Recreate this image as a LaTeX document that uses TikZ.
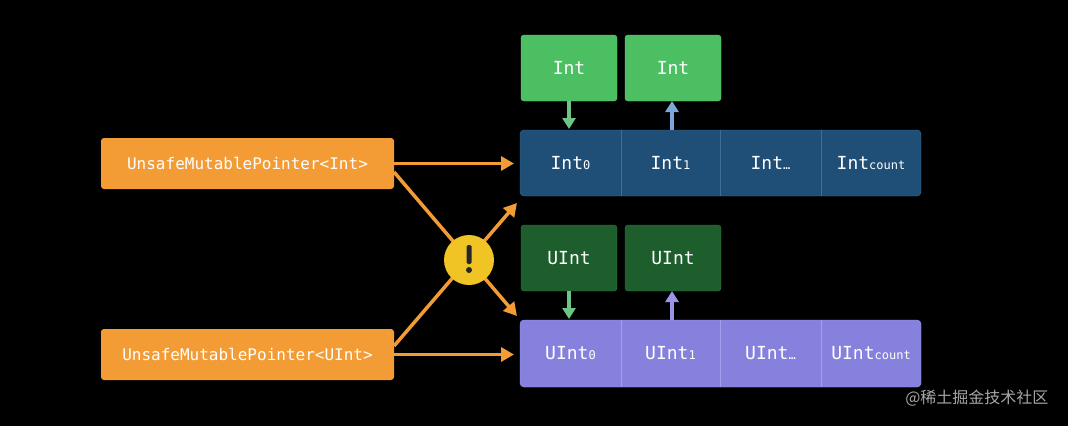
\documentclass[tikz,border=0pt]{standalone}
\usepackage{fontspec}
\setmainfont{DejaVu Sans Mono}
\newfontfamily\cjk{Noto Sans CJK SC}
\usetikzlibrary{arrows.meta}
\definecolor{orng}{HTML}{F39C35}
\definecolor{topb}{HTML}{1F4E76}
\definecolor{topl}{HTML}{3F6E98}
\definecolor{botb}{HTML}{8681DD}
\definecolor{botl}{HTML}{A3A0EA}
\definecolor{lgrn}{HTML}{4CBF63}
\definecolor{dgrn}{HTML}{1E5E2D}
\definecolor{arrg}{HTML}{6CC487}
\definecolor{arrb}{HTML}{7EA6D8}
\definecolor{arrp}{HTML}{9A95E6}
\newcommand{\sbs}[1]{{\fontsize{12}{14}\selectfont #1}}
\begin{document}
\begin{tikzpicture}[x=1pt,y=-1pt,
  ptr/.style={fill=orng,rounded corners=3pt,minimum width=293pt,minimum height=51pt,text=white,font=\fontsize{16}{18}\selectfont,inner sep=0pt},
  cell/.style={minimum width=100pt,minimum height=66pt,text=white,font=\fontsize{18}{20}\selectfont,inner sep=0pt},
  val/.style={rounded corners=3pt,minimum width=96pt,minimum height=66pt,text=white,font=\fontsize{18}{20}\selectfont,inner sep=0pt},
  oa/.style={draw=orng,line width=3.5pt,-{Triangle[length=13pt,width=14pt]}},
  sa/.style={line width=3.5pt,-{Triangle[length=11pt,width=13pt]}}]
\fill[black] (0,0) rectangle (1068,426);
% arrays
\fill[topb,rounded corners=4pt,draw=topl] (520,130) rectangle (921,196);
\fill[botb,rounded corners=4pt,draw=botl] (520,320) rectangle (921,387);
\foreach \x in {621,720,821}{
  \draw[topl] (\x,130) -- (\x,196);
  \draw[botl] (\x,320) -- (\x,387);}
\node[cell] (t0) at (570.5,163) {Int\sbs{0}};
\node[cell] (t1) at (670.5,163) {Int\sbs{1}};
\node[cell] (t2) at (770.5,163) {Int\sbs{…}};
\node[cell] (t3) at (871,163) {Int\sbs{count}};
\node[cell] (b0) at (570.5,353.5) {UInt\sbs{0}};
\node[cell] (b1) at (670.5,353.5) {UInt\sbs{1}};
\node[cell] (b2) at (770.5,353.5) {UInt\sbs{…}};
\node[cell] (b3) at (871,353.5) {UInt\sbs{count}};
% value boxes
\node[val,fill=lgrn,draw=lgrn!80!white] (v1) at (569,68) {Int};
\node[val,fill=lgrn,draw=lgrn!80!white] (v2) at (673,68) {Int};
\node[val,fill=dgrn,draw=dgrn!70!lgrn] (u1) at (569,258) {UInt};
\node[val,fill=dgrn,draw=dgrn!70!lgrn] (u2) at (673,258) {UInt};
\coordinate (v1e) at (569,129);
\coordinate (v2s) at (672,130);
\coordinate (u1e) at (569,319);
\coordinate (u2s) at (672,320);
\draw[sa,draw=arrg] (v1.south) -- (v1e);
\draw[sa,draw=arrb] (v2s) -- (672,101);
\draw[sa,draw=arrg] (u1.south) -- (u1e);
\draw[sa,draw=arrp] (u2s) -- (672,291);
% pointers
\node[ptr] (p1) at (247.5,163.5) {UnsafeMutablePointer<Int>};
\node[ptr] (p2) at (247.5,354.5) {UnsafeMutablePointer<UInt>};
\coordinate (p1a) at (394,172);
\coordinate (p2a) at (394,346);
\coordinate (c1) at (517,203);
\coordinate (c2) at (517,316);
\draw[oa] (p1.east) -- (514,163.5);
\draw[oa] (p2.east) -- (514,354.5);
\draw[oa] (p1a) -- (c2);
\draw[oa] (p2a) -- (c1);
\node[circle,fill={rgb,255:red,240;green,196;blue,36},minimum size=50pt,inner sep=0pt] (w) at (469,260) {};
\fill[black!85,rounded corners=1.5pt] (469,260) ++(-2.5,-15) rectangle ++(5,19) ;
\fill[black!85] (469,270) circle (3pt);
\node[text=gray!70,font=\cjk\fontsize{16}{18}\selectfont,anchor=east] (wm) at (1052,398) {@稀土掘金技术社区};
\end{tikzpicture}
\end{document}
